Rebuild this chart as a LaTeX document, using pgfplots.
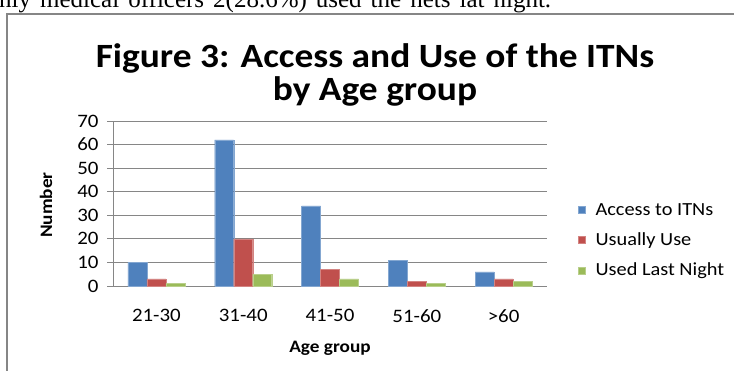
\documentclass[border=0pt]{standalone}
\usepackage{pgfplots}
\pgfplotsset{compat=1.18}
\usepackage{fontspec}
\setmainfont{Carlito}[FakeStretch=1.1]
\newfontfamily\timesfont{Liberation Serif}
\definecolor{cblue}{HTML}{4F81BD}
\definecolor{cred}{HTML}{C0504D}
\definecolor{cgreen}{HTML}{9BBB59}
\definecolor{gridc}{HTML}{868686}
\begin{document}
\begin{tikzpicture}[x=1bp,y=1bp]
\useasboundingbox (0,0) rectangle (734,370);
\clip (0,0) rectangle (734,370);
\node[overlay,anchor=base west,inner sep=0pt,font=\timesfont\fontsize{25bp}{28bp}\selectfont] at (-13.5,363) {\spaceskip=9bp only medical officers 2(28.6\%) used the nets lat night.};
\draw[overlay,gridc,line width=1.2bp] (7,-10) -- (7,356) -- (760,356);
\node[align=center,font=\bfseries\fontsize{34bp}{33bp}\selectfont,anchor=base] at (375,270) {Figure 3: Access and Use of the ITNs\\by Age group};
\begin{axis}[
  at={(113bp,84bp)}, anchor=south west,
  scale only axis, width=434bp, height=165bp,
  ybar=0pt, bar width=19bp,
  xmin=-0.5, xmax=4.5, ymin=0, ymax=70,
  xtick={0,1,2,3,4}, xticklabels={21-30,31-40,41-50,51-60,>60},
  ytick={0,10,...,70},
  /pgf/number format/assume math mode=true,
  tick label style={font=\fontsize{19bp}{22bp}\selectfont},
  xtick style={draw=none},
  ytick style={gridc, line width=0.8bp},
  y tick label style={xshift=-5bp},
  x tick label style={yshift=-14bp},
  tick align=outside, major tick length=6bp,
  ymajorgrids, grid style={gridc, line width=0.8bp},
  axis x line*=bottom, axis y line*=left,
  axis line style={gridc, line width=0.8bp, -},
  xlabel={\bfseries Age group}, ylabel={\bfseries Number},
  label style={font=\bfseries\fontsize{17.5bp}{20bp}\selectfont},
  xlabel style={at={(axis description cs:0.5,-0.4)}, anchor=base},
  ylabel style={at={(axis description cs:-0.154,0.49)}, anchor=center},
  legend style={at={(rel axis cs:1.065,0.276)}, anchor=west, draw=none, fill=none,
    font=\fontsize{18.5bp}{21bp}\selectfont, row sep=12bp},
  legend cell align=left,
  area legend,
  legend image code/.code={\fill[#1] (0bp,-3.5bp) rectangle (7bp,3.5bp); \path[draw=none,fill=none] (0bp,0bp) rectangle (15bp,0bp);},
]
\addplot[fill=cblue, draw=cblue!70!white] coordinates {(0,10) (1,62) (2,34) (3,11) (4,6)};
\addplot[fill=cred, draw=cred!70!white] coordinates {(0,3) (1,20) (2,7) (3,2) (4,3)};
\addplot[fill=cgreen, draw=cgreen!70!white] coordinates {(0,1) (1,5) (2,3) (3,1) (4,2)};
\legend{Access to ITNs, Usually Use, Used Last Night}
\end{axis}
\end{tikzpicture}
\end{document}
